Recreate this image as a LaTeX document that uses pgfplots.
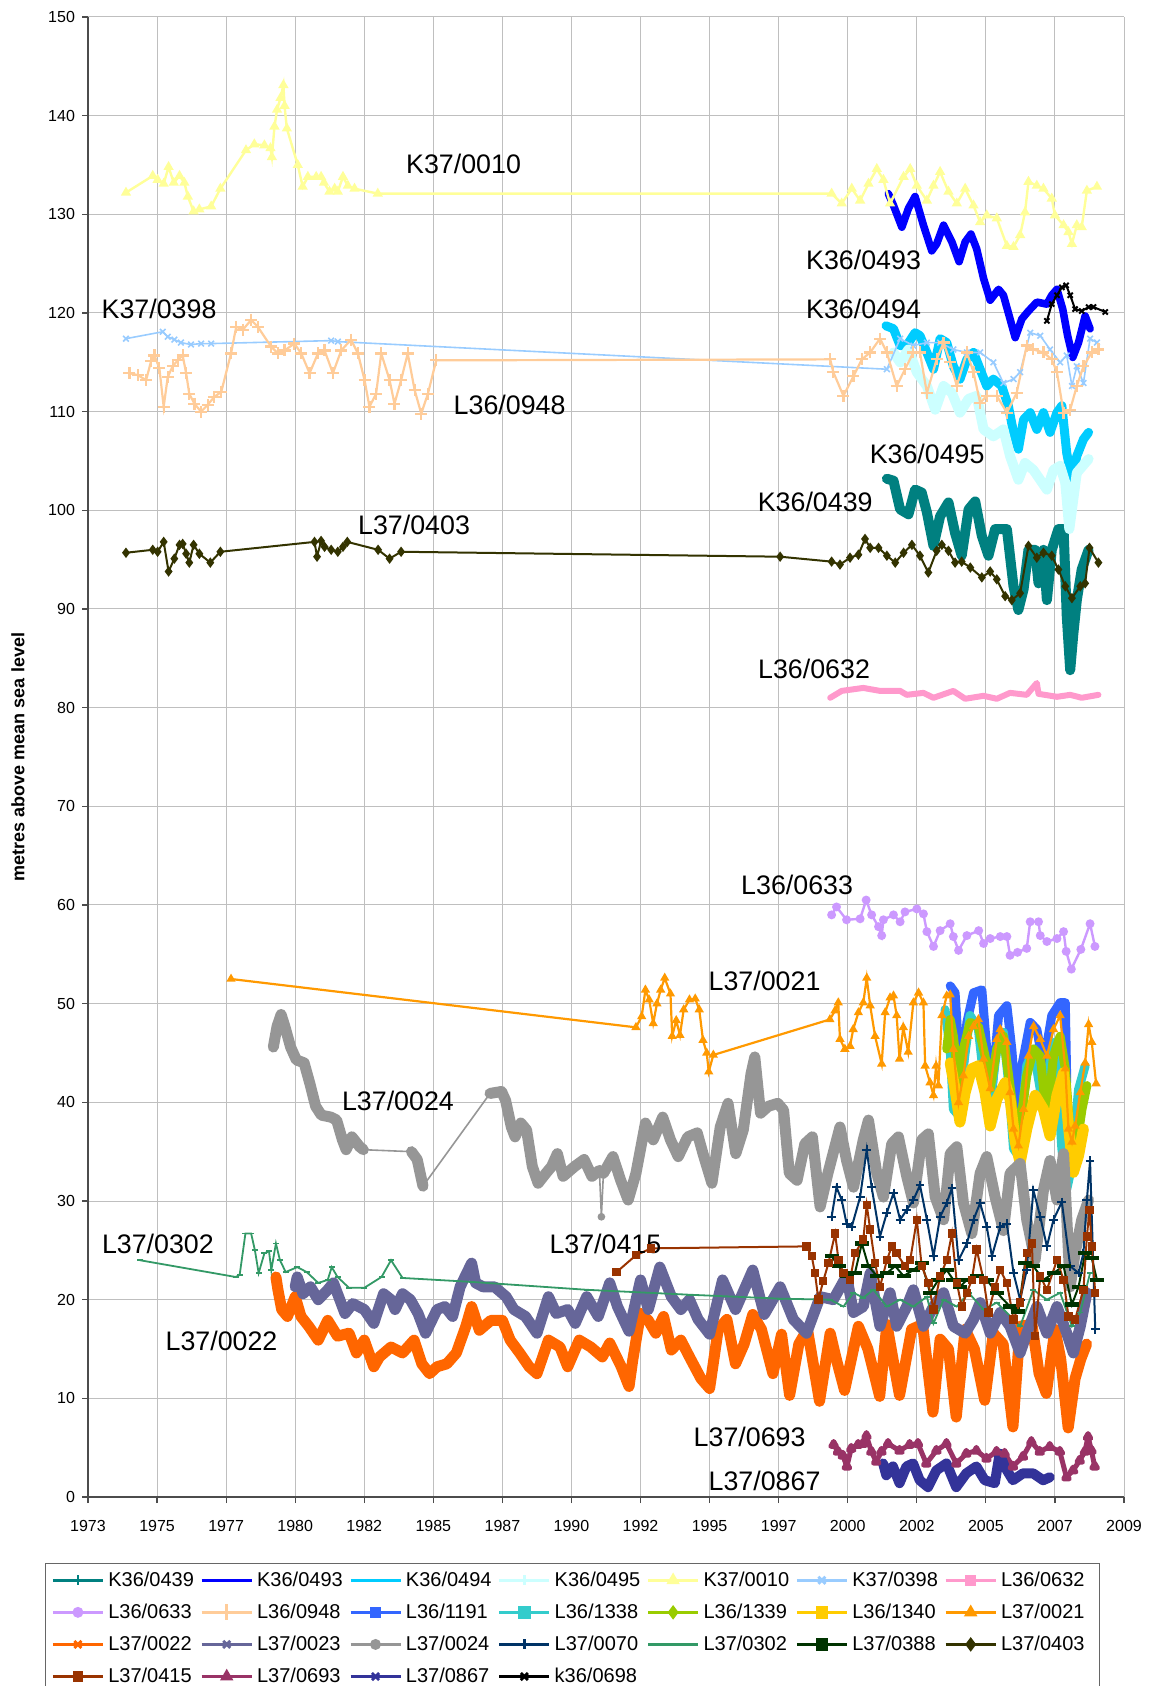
\documentclass[border=0pt]{standalone}
\usepackage{pgfplots}
\pgfplotsset{compat=1.18}
\usepackage{fontspec}
\setmainfont{Liberation Sans}
\setsansfont{Liberation Sans}
\definecolor{cTeal}{HTML}{008080}
\definecolor{cBlue}{HTML}{0000FF}
\definecolor{cSky}{HTML}{00CCFF}
\definecolor{cPaleCyan}{HTML}{CCFFFF}
\definecolor{cLtYellow}{HTML}{FFFF99}
\definecolor{cPaleBlue}{HTML}{99CCFF}
\definecolor{cRose}{HTML}{FF99CC}
\definecolor{cLavender}{HTML}{CC99FF}
\definecolor{cTan}{HTML}{FFCC99}
\definecolor{cLtBlue}{HTML}{3366FF}
\definecolor{cAqua}{HTML}{33CCCC}
\definecolor{cLime}{HTML}{99CC00}
\definecolor{cGold}{HTML}{FFCC00}
\definecolor{cLtOrange}{HTML}{FF9900}
\definecolor{cOrange}{HTML}{FF6600}
\definecolor{cBlueGray}{HTML}{666699}
\definecolor{cGray}{HTML}{969696}
\definecolor{cDkTeal}{HTML}{003366}
\definecolor{cSeaGreen}{HTML}{339966}
\definecolor{cDkGreen}{HTML}{003300}
\definecolor{cOlive}{HTML}{333300}
\definecolor{cBrown}{HTML}{993300}
\definecolor{cPlum}{HTML}{993366}
\definecolor{cIndigo}{HTML}{333399}
\pgfplotsset{
  band/.style={no markers, line join=round, line cap=round, forget plot},
  sparse/.style={line width=0.8pt, mark size=1.4pt, mark options={solid}, forget plot},
}
\tikzset{anno/.style={font=\fontsize{13.4}{15}\selectfont, inner sep=0pt}}
\newcommand{\lgent}[2]{\addlegendimage{#1}\addlegendentry{\makebox[44pt][l]{#2}}}
\begin{document}
\begin{tikzpicture}
\begin{axis}[
  scale only axis, width=518pt, height=740pt,
  xmin=1973, xmax=2009, ymin=0, ymax=150,
  xtick={1973,1975.4,1977.8,1980.2,1982.6,1985,1987.4,1989.8,1992.2,1994.6,1997,1999.4,2001.8,2004.2,2006.6,2009},
  xticklabels={1973,1975,1977,1980,1982,1985,1987,1990,1992,1995,1997,2000,2002,2005,2007,2009},
  ytick={0,10,...,150},
  grid=major, grid style={color=black!25, line width=0.5pt},
  axis x line*=bottom, axis y line*=left,
  tick align=outside, major tick length=3pt,
  tick style={black!70, line width=0.6pt},
  axis line style={black!70, line width=0.6pt},
  ticklabel style={font=\fontsize{8}{9}\selectfont},
  xticklabel style={yshift=-5pt},
  /pgf/number format/assume math mode=true,
  ylabel={metres above mean sea level},
  ylabel style={font=\bfseries\fontsize{9}{10}\selectfont, at={(axis description cs:-0.0676,0.5)}, anchor=center},
  legend columns=7,
  legend cell align=left,
  legend style={at={(0.4675,-0.0446)}, anchor=north, draw=black!60, line width=0.5pt,
    font=\fontsize{10}{12}\selectfont, row sep=3.3pt,
    /tikz/every even column/.append style={column sep=0pt}},
  legend image code/.code={\draw[mark repeat=2,mark phase=2,line width=1.4pt,#1] plot coordinates {(0pt,0pt) (12.5pt,0pt) (25pt,0pt)};},
]
\coordinate (sw) at (rel axis cs:0,0);
\coordinate (ne) at (rel axis cs:1,1);

% K36/0439
\addplot[band, cTeal, line width=5pt] coordinates {(2000.76,103.2)(2000.99,103.0)(2001.22,100.1)(2001.51,99.6)(2001.74,102.1)(2001.97,101.8)(2002.15,99.8)(2002.38,96.4)(2002.61,99.4)(2002.9,100.8)(2003.13,97.7)(2003.36,95.4)(2003.6,100.1)(2003.83,100.9)(2004.06,97.4)(2004.29,95.4)(2004.52,98.1)(2004.93,98.1)(2005.16,92.3)(2005.33,89.9)(2005.51,92.0)(2005.68,96.0)(2005.91,96.0)(2006.03,92.6)(2006.2,96.0)(2006.32,90.9)(2006.49,96.0)(2006.72,98.1)(2006.9,98.1)(2007.01,89.3)(2007.13,83.8)(2007.24,87.5)(2007.36,90.9)(2007.53,94.0)(2007.77,96.0)};
% K36/0493
\addplot[band, cBlue, line width=3.8pt] coordinates {(2000.81,132.1)(2000.99,130.9)(2001.28,128.7)(2001.51,130.6)(2001.74,131.8)(2002.03,128.9)(2002.32,126.3)(2002.49,127.0)(2002.73,128.9)(2003.02,127.2)(2003.27,125.2)(2003.48,127.2)(2003.68,128.0)(2003.88,126.5)(2004.12,123.5)(2004.35,121.3)(2004.64,122.4)(2004.81,121.8)(2005.04,119.4)(2005.22,117.5)(2005.45,119.4)(2005.68,120.2)(2005.97,121.1)(2006.32,120.9)(2006.49,121.8)(2006.67,122.4)(2006.87,120.4)(2007.04,117.7)(2007.22,115.5)(2007.42,117.0)(2007.65,119.7)(2007.82,118.4)};
% K36/0494
\addplot[band, cSky, line width=4.5pt] coordinates {(2000.73,118.7)(2000.99,118.4)(2001.22,116.7)(2001.45,116.7)(2001.74,118.0)(2001.91,117.7)(2002.15,116.0)(2002.38,114.3)(2002.61,117.4)(2002.84,117.0)(2003.07,114.6)(2003.3,113.3)(2003.54,115.3)(2003.77,116.0)(2004.0,114.3)(2004.23,112.6)(2004.46,113.3)(2004.75,112.6)(2004.98,110.6)(2005.16,107.9)(2005.33,106.2)(2005.51,109.2)(2005.74,109.9)(2005.97,108.2)(2006.2,109.9)(2006.43,107.9)(2006.67,109.9)(2006.84,110.6)(2007.01,105.8)(2007.19,103.1)(2007.36,105.5)(2007.59,107.2)(2007.77,107.9)};
% K36/0495
\addplot[band, cPaleCyan, line width=5pt] coordinates {(2000.99,116.0)(2001.22,115.0)(2001.51,116.3)(2001.8,114.0)(2002.15,112.6)(2002.44,110.2)(2002.73,112.6)(2003.02,111.9)(2003.3,109.9)(2003.6,111.3)(2003.88,111.6)(2004.12,108.2)(2004.46,107.5)(2004.81,108.2)(2005.04,105.5)(2005.33,103.1)(2005.56,104.8)(2005.85,104.1)(2006.32,102.1)(2006.55,104.1)(2006.78,104.5)(2006.96,102.8)(2007.1,98.1)(2007.36,103.8)(2007.77,105.2)};
% K37/0010
\addplot[sparse, cLtYellow, mark=triangle*, line width=1.2pt, mark size=1.8pt] coordinates {(1974.32,132.2)(1975.25,133.9)(1975.42,133.5)(1975.63,133.1)(1975.8,134.8)(1975.98,133.2)(1976.18,133.9)(1976.35,133.2)(1976.47,131.8)(1976.67,130.3)(1976.87,130.5)(1977.28,130.8)(1977.6,132.6)(1978.49,136.5)(1978.78,137.1)(1979.13,137.0)(1979.34,136.7)(1979.39,135.8)(1979.48,138.9)(1979.57,140.6)(1979.69,141.8)(1979.79,143.1)(1979.83,141.0)(1979.91,138.7)(1980.29,135.0)(1980.46,132.8)(1980.64,133.8)(1980.93,133.8)(1981.1,133.8)(1981.2,133.2)(1981.39,132.3)(1981.57,132.6)(1981.68,132.3)(1981.86,133.8)(1982.03,132.9)(1982.26,132.6)(1983.07,132.1)(1998.84,132.1)(1999.19,131.1)(1999.54,132.6)(1999.83,131.4)(2000.12,133.1)(2000.41,134.6)(2000.64,133.5)(2000.87,131.1)(2001.34,133.8)(2001.57,134.6)(2001.8,132.9)(2002.15,131.4)(2002.38,132.9)(2002.61,134.3)(2002.9,132.3)(2003.19,131.1)(2003.48,132.6)(2003.77,130.9)(2004.0,129.2)(2004.23,129.9)(2004.58,129.6)(2004.93,126.8)(2005.16,126.7)(2005.39,127.9)(2005.56,130.2)(2005.68,133.3)(2005.97,132.9)(2006.2,132.6)(2006.49,131.6)(2006.6,129.9)(2006.9,128.9)(2007.07,128.2)(2007.19,127.0)(2007.36,128.9)(2007.53,128.7)(2007.71,132.4)(2008.06,132.8)};
% K37/0398
\addplot[sparse, cPaleBlue, mark=x, mark size=2pt] coordinates {(1974.32,117.4)(1975.6,118.1)(1975.77,117.6)(1976.0,117.3)(1976.23,117.0)(1976.58,116.8)(1976.93,116.9)(1977.28,116.9)(1981.45,117.2)(1981.68,117.1)(2000.76,114.3)(2001.22,117.4)(2001.68,116.7)(2002.15,117.0)(2002.61,117.0)(2003.07,116.3)(2003.54,116.0)(2004.0,116.0)(2004.46,115.0)(2004.81,112.9)(2005.16,113.3)(2005.39,114.0)(2005.74,118.0)(2006.09,117.7)(2006.43,116.3)(2006.78,115.0)(2007.01,115.7)(2007.19,112.6)(2007.36,114.6)(2007.59,112.9)(2007.82,117.4)(2008.06,117.0)};
% L36/0632
\addplot[band, cRose, line width=3pt] coordinates {(1998.79,81.0)(1999.19,81.7)(1999.94,82.0)(2000.52,81.7)(2001.22,81.7)(2001.45,81.3)(2002.03,81.5)(2002.38,81.0)(2003.07,81.7)(2003.48,80.9)(2004.12,81.2)(2004.58,80.9)(2005.04,81.5)(2005.62,81.3)(2005.97,82.5)(2006.03,81.4)(2006.67,81.1)(2007.13,81.3)(2007.53,81.0)(2008.11,81.3)};
% L36/0633
\addplot[sparse, cLavender, mark=*, line width=1.2pt, mark size=1.6pt] coordinates {(1998.84,59.0)(1999.01,59.8)(1999.36,58.5)(1999.83,58.6)(2000.04,60.5)(2000.23,59.0)(2000.47,57.8)(2000.58,56.9)(2000.64,58.5)(2000.99,59.0)(2001.22,58.3)(2001.39,59.3)(2001.8,59.6)(2002.03,59.1)(2002.15,57.3)(2002.38,55.8)(2002.61,57.4)(2002.96,58.1)(2003.07,56.8)(2003.25,55.4)(2003.54,56.9)(2003.95,57.4)(2004.12,56.1)(2004.35,56.6)(2004.7,56.8)(2004.93,56.8)(2005.04,54.9)(2005.3,55.2)(2005.62,55.6)(2005.74,58.3)(2006.03,58.3)(2006.09,56.9)(2006.32,56.3)(2006.67,56.6)(2006.9,57.3)(2006.99,55.3)(2007.17,53.5)(2007.5,55.5)(2007.82,58.1)(2007.99,55.8)};
% L36/0948
\addplot[sparse, cTan, mark=+, mark size=3pt, line width=1.1pt] coordinates {(1974.44,113.9)(1974.73,113.7)(1975.02,113.2)(1975.19,115.1)(1975.31,115.7)(1975.48,114.4)(1975.63,110.5)(1975.77,113.5)(1975.94,114.6)(1976.12,115.2)(1976.29,115.7)(1976.41,113.9)(1976.52,111.8)(1976.7,110.8)(1976.93,110.0)(1977.16,110.7)(1977.39,111.5)(1977.63,112.0)(1977.97,115.9)(1978.15,118.6)(1978.38,118.3)(1978.67,119.3)(1978.9,118.6)(1979.36,116.6)(1979.6,115.9)(1979.83,116.2)(1980.17,116.9)(1980.41,115.9)(1980.7,113.9)(1980.99,115.9)(1981.22,116.2)(1981.51,113.9)(1981.8,116.2)(1982.14,117.3)(1982.38,115.9)(1982.61,113.2)(1982.78,110.5)(1983.01,111.8)(1983.19,115.9)(1983.48,113.2)(1983.65,110.8)(1983.88,113.2)(1984.11,115.9)(1984.35,112.2)(1984.58,109.8)(1984.81,111.8)(1985.1,115.2)(1998.79,115.3)(1998.9,114.0)(1999.25,111.6)(1999.6,113.6)(1999.89,115.3)(2000.18,116.0)(2000.52,117.4)(2000.76,116.0)(2001.1,112.6)(2001.39,114.3)(2001.68,116.0)(2001.91,116.0)(2002.15,111.9)(2002.49,115.3)(2002.73,117.0)(2002.96,115.0)(2003.19,112.6)(2003.54,116.0)(2003.77,114.0)(2004.0,110.9)(2004.23,111.6)(2004.58,111.6)(2004.93,109.9)(2005.27,111.9)(2005.62,116.7)(2005.85,116.3)(2006.2,116.0)(2006.49,115.3)(2006.67,114.0)(2006.9,109.9)(2007.13,110.2)(2007.36,112.6)(2007.59,114.6)(2007.88,116.0)(2008.11,116.3)};
% L36/1191
\addplot[band, cLtBlue, line width=4.5pt] coordinates {(2002.96,51.8)(2003.13,51.1)(2003.25,45.4)(2003.36,41.4)(2003.54,48.1)(2003.77,51.1)(2004.06,51.4)(2004.23,45.4)(2004.41,41.0)(2004.64,48.8)(2004.93,49.8)(2005.1,45.4)(2005.27,39.0)(2005.45,43.7)(2005.74,48.1)(2005.97,47.4)(2006.2,43.7)(2006.49,48.8)(2006.78,50.1)(2006.96,50.1)(2007.01,42.0)};
% L36/1338
\addplot[band, cAqua, line width=4.5pt] coordinates {(2002.78,49.4)(2002.96,45.4)(2003.07,39.3)(2003.25,38.7)(2003.42,43.7)(2003.65,48.8)(2003.94,47.4)(2004.12,42.7)(2004.29,38.7)(2004.58,45.4)(2004.81,47.1)(2004.99,42.0)(2005.16,35.3)(2005.33,34.6)(2005.62,43.7)(2005.86,45.4)(2006.09,41.3)(2006.32,42.7)(2006.61,46.1)(2006.84,35.3)(2007.01,31.2)(2007.19,33.6)(2007.42,41.3)(2007.65,43.7)};
% L36/1339
\addplot[band, cLime, line width=4.5pt] coordinates {(2002.84,45.4)(2002.96,48.4)(2003.07,46.7)(2003.25,42.0)(2003.42,45.4)(2003.65,48.1)(2003.94,47.7)(2004.17,44.7)(2004.35,41.4)(2004.58,45.4)(2004.81,46.7)(2004.99,42.7)(2005.16,39.0)(2005.39,37.6)(2005.62,42.7)(2005.86,45.4)(2006.09,44.7)(2006.32,38.0)(2006.55,44.7)(2006.78,46.7)(2006.96,43.4)(2007.13,36.6)(2007.3,34.6)(2007.54,39.3)(2007.71,41.7)};
% L36/1340
\addplot[band, cGold, line width=5.5pt] coordinates {(2002.96,44.0)(2003.13,41.3)(2003.3,38.0)(2003.48,41.0)(2003.71,43.4)(2003.94,43.7)(2004.17,41.0)(2004.35,37.6)(2004.58,40.3)(2004.87,42.0)(2005.04,40.3)(2005.22,36.0)(2005.39,33.9)(2005.62,37.3)(2005.91,40.7)(2006.2,39.3)(2006.43,36.6)(2006.67,40.7)(2006.9,43.0)(2007.07,37.6)(2007.24,32.9)(2007.42,34.6)(2007.59,37.3)};
% L37/0021
\addplot[sparse, cLtOrange, mark=triangle*, line width=1.1pt, mark size=1.6pt] coordinates {(1977.97,52.5)(1992.04,47.6)(1992.24,48.7)(1992.37,51.4)(1992.5,50.4)(1992.64,48.0)(1992.77,50.0)(1992.9,51.4)(1993.04,52.6)(1993.24,51.0)(1993.3,46.7)(1993.44,48.3)(1993.57,46.8)(1993.7,49.4)(1993.9,50.4)(1994.1,50.5)(1994.24,49.4)(1994.37,46.3)(1994.5,45.0)(1994.57,43.1)(1994.73,44.8)(1998.78,48.4)(1998.96,49.3)(1999.07,50.1)(1999.13,46.4)(1999.3,45.4)(1999.48,45.7)(1999.59,47.4)(1999.77,49.1)(1999.94,50.1)(2000.06,52.6)(2000.18,49.8)(2000.35,46.7)(2000.58,43.9)(2000.7,49.1)(2000.87,50.6)(2000.99,50.8)(2001.1,48.8)(2001.2,44.4)(2001.33,47.6)(2001.5,45.1)(2001.68,50.1)(2001.86,51.1)(2002.03,50.1)(2002.09,43.7)(2002.26,42.0)(2002.38,40.7)(2002.47,43.7)(2002.55,41.7)(2002.67,48.8)(2002.84,50.8)(2002.96,50.9)(2003.07,45.4)(2003.25,40.0)(2003.42,42.7)(2003.6,46.7)(2003.77,47.7)(2003.94,48.4)(2004.12,44.4)(2004.35,41.4)(2004.58,46.4)(2004.7,47.4)(2004.93,46.1)(2005.04,41.0)(2005.16,37.3)(2005.33,35.6)(2005.51,39.3)(2005.68,44.7)(2005.86,47.7)(2006.09,46.4)(2006.32,44.7)(2006.55,47.4)(2006.78,48.8)(2006.96,43.4)(2007.07,37.3)(2007.19,36.0)(2007.3,37.6)(2007.48,41.0)(2007.65,44.0)(2007.77,47.9)(2007.88,46.1)(2008.03,41.9)};
% L37/0022
\addplot[band, cOrange, line width=5.5pt] coordinates {(1979.53,22.3)(1979.6,21.0)(1979.73,19.0)(1979.93,18.3)(1980.2,20.3)(1980.4,18.3)(1980.67,17.3)(1981.0,15.9)(1981.33,17.9)(1981.67,16.3)(1982.07,16.6)(1982.33,14.6)(1982.6,15.9)(1982.93,13.2)(1983.13,14.2)(1983.53,15.2)(1983.93,14.6)(1984.33,15.9)(1984.6,13.5)(1984.87,12.5)(1985.13,13.2)(1985.47,13.5)(1985.8,14.6)(1986.13,17.3)(1986.33,19.3)(1986.6,16.9)(1987.0,17.9)(1987.4,17.9)(1987.67,15.9)(1988.0,14.6)(1988.33,13.2)(1988.6,12.5)(1989.0,15.9)(1989.4,15.2)(1989.67,13.2)(1990.07,15.9)(1990.47,15.2)(1990.87,14.2)(1991.13,15.6)(1991.53,13.2)(1991.8,11.2)(1991.93,13.9)(1992.2,18.6)(1992.47,17.9)(1992.73,16.6)(1993.0,18.3)(1993.27,14.9)(1993.6,15.9)(1993.9,14.2)(1994.3,12.0)(1994.6,11.0)(1994.9,17.0)(1995.2,18.0)(1995.5,13.5)(1995.8,15.5)(1996.1,18.5)(1996.4,17.0)(1996.8,12.5)(1997.1,16.5)(1997.38,10.3)(1997.7,15.5)(1998.0,17.0)(1998.42,9.7)(1998.79,16.6)(1999.0,14.0)(1999.29,10.8)(1999.77,17.3)(2000.1,15.0)(2000.51,10.2)(2000.76,17.5)(2001.0,13.5)(2001.2,10.3)(2001.62,17.0)(2002.0,17.5)(2002.36,8.6)(2002.61,16.0)(2002.9,15.0)(2003.17,8.1)(2003.48,17.0)(2003.8,15.0)(2004.16,9.8)(2004.46,16.6)(2004.8,15.5)(2005.14,7.1)(2005.39,17.3)(2005.8,17.5)(2006.05,12.5)(2006.3,10.5)(2006.6,17.0)(2006.8,14.0)(2007.06,7.0)(2007.3,12.0)(2007.5,14.0)(2007.7,15.5)};
% L37/0023
\addplot[band, cBlueGray, line width=5.5pt] coordinates {(1980.2,21.3)(1980.27,22.3)(1980.47,20.6)(1980.73,21.3)(1981.0,20.0)(1981.33,21.0)(1981.53,21.7)(1981.93,18.6)(1982.2,19.6)(1982.6,19.0)(1982.93,17.6)(1983.27,20.6)(1983.53,20.0)(1983.67,19.0)(1983.93,20.6)(1984.2,20.0)(1984.47,18.6)(1984.73,16.6)(1985.13,19.0)(1985.4,19.3)(1985.67,18.3)(1985.93,21.3)(1986.33,23.7)(1986.47,21.7)(1986.73,21.3)(1987.13,21.3)(1987.53,20.3)(1987.8,19.0)(1988.2,18.3)(1988.6,16.6)(1989.0,20.3)(1989.27,18.6)(1989.67,19.0)(1989.93,17.6)(1990.33,20.3)(1990.73,18.3)(1991.13,21.7)(1991.4,19.3)(1991.8,16.8)(1992.2,22.0)(1992.47,19.0)(1992.87,23.3)(1993.27,20.3)(1993.6,19.0)(1993.9,20.0)(1994.2,18.0)(1994.6,16.5)(1995.05,22.0)(1995.5,19.0)(1996.1,23.0)(1996.5,18.5)(1997.05,21.3)(1997.51,18.0)(1997.97,16.6)(1998.44,20.3)(1998.9,20.0)(1999.36,22.4)(1999.6,18.7)(1999.94,19.3)(2000.18,22.7)(2000.52,17.3)(2000.87,20.7)(2001.1,17.3)(2001.45,19.3)(2001.68,21.0)(2002.03,17.3)(2002.38,19.3)(2002.73,20.7)(2003.07,17.3)(2003.48,16.6)(2003.77,18.0)(2004.0,19.7)(2004.35,16.6)(2004.7,18.7)(2005.04,17.3)(2005.39,14.6)(2005.62,16.6)(2005.97,19.3)(2006.32,16.6)(2006.67,19.3)(2007.01,16.6)(2007.24,14.6)(2007.48,17.3)(2007.71,20.7)};
% L37/0024
\addplot[band, cGray, line width=5.5pt] coordinates {(1979.44,45.6)(1979.57,47.7)(1979.71,48.9)(1979.84,47.7)(1980.04,45.6)(1980.24,44.3)(1980.51,44.0)(1980.71,41.9)(1980.91,39.6)(1981.11,38.7)(1981.44,38.5)(1981.64,38.2)(1981.84,36.2)(1981.97,35.2)(1982.17,36.5)(1982.44,35.5)(1982.57,35.2)};
\addplot[cGray, line width=0.8pt, forget plot] coordinates {(1982.57,35.2)(1984.24,35.0)};
\addplot[band, cGray, line width=5.5pt] coordinates {(1984.24,35.0)(1984.44,34.2)(1984.64,31.5)};
\addplot[cGray, line width=0.8pt, forget plot] coordinates {(1984.64,31.5)(1986.97,40.9)};
\addplot[band, cGray, line width=5.5pt] coordinates {(1986.97,40.9)(1987.37,41.1)(1987.51,40.2)(1987.71,37.5)(1987.84,36.5)(1988.04,37.9)(1988.24,37.2)(1988.44,33.5)(1988.64,31.8)(1988.91,32.8)(1989.11,33.5)(1989.31,34.8)(1989.51,32.5)(1989.91,33.5)(1990.24,34.2)(1990.51,32.5)(1990.77,33.1)};
\addplot[cGray, line width=0.8pt, mark=*, mark size=1.5pt, forget plot] coordinates {(1990.77,33.1)(1990.84,28.4)(1990.91,32.8)};
\addplot[band, cGray, line width=5.5pt] coordinates {(1990.91,32.8)(1991.24,34.5)(1991.51,32.1)(1991.77,30.1)(1992.04,32.8)(1992.37,37.9)(1992.64,36.2)(1992.97,38.5)(1993.24,36.2)(1993.51,34.5)(1993.84,36.5)(1994.17,36.9)(1994.37,34.8)(1994.68,31.8)(1994.97,37.5)(1995.24,39.9)(1995.51,34.8)(1995.77,37.2)(1996.04,42.9)(1996.17,44.6)(1996.37,38.9)(1996.64,39.6)(1996.97,39.9)(1997.17,39.2)(1997.37,32.8)(1997.64,32.1)(1997.91,35.8)(1998.17,36.5)(1998.44,29.4)(1998.71,32.8)(1999.13,37.5)(1999.36,34.1)(1999.6,31.4)(1999.94,36.2)(2000.12,38.2)(2000.41,32.8)(2000.64,30.4)(2000.93,35.8)(2001.16,36.5)(2001.45,32.5)(2001.68,29.8)(2001.97,36.2)(2002.2,36.8)(2002.44,30.4)(2002.73,28.1)(2002.96,34.8)(2003.19,35.5)(2003.42,29.8)(2003.71,26.7)(2004.0,32.8)(2004.23,34.5)(2004.52,30.4)(2004.81,27.0)(2005.04,32.8)(2005.39,33.8)(2005.62,28.1)(2005.91,24.0)(2006.2,31.1)(2006.43,34.1)(2006.67,30.1)(2006.9,34.8)(2007.13,21.3)(2007.3,24.7)(2007.53,28.1)(2007.77,30.1)};
% L37/0070
\addplot[sparse, cDkTeal, mark=+, mark size=2.2pt, line width=1pt] coordinates {(1998.84,28.4)(1999.01,31.4)(1999.19,30.1)(1999.36,27.7)(1999.54,27.4)(1999.83,30.4)(2000.06,35.2)(2000.23,31.4)(2000.52,26.4)(2000.76,28.8)(2000.99,30.8)(2001.22,28.1)(2001.45,29.1)(2001.68,30.1)(2001.91,31.6)(2002.15,28.1)(2002.38,24.4)(2002.61,28.4)(2002.84,29.8)(2003.02,31.3)(2003.25,24.0)(2003.54,25.7)(2003.77,28.1)(2004.0,29.8)(2004.23,27.4)(2004.41,24.4)(2004.7,27.4)(2004.93,27.7)(2005.16,22.7)(2005.39,20.0)(2005.62,23.0)(2005.85,31.1)(2006.09,28.4)(2006.32,25.4)(2006.55,28.1)(2006.84,29.9)(2007.13,23.4)(2007.42,22.7)(2007.59,24.7)(2007.71,30.1)(2007.82,34.1)(2008.0,17.0)};
% L37/0302
\addplot[sparse, cSeaGreen, mark=-, mark size=1.5pt, line width=0.9pt] coordinates {(1974.8,24.0)(1978.13,22.3)(1978.27,22.5)(1978.47,26.7)(1978.67,26.7)(1978.8,25.0)(1978.93,22.7)(1979.13,24.7)(1979.29,24.9)(1979.37,23.0)(1979.53,25.7)(1979.67,24.0)(1979.87,22.8)(1980.27,23.3)(1980.6,22.8)(1981.0,21.7)(1981.33,22.0)(1981.47,23.3)(1981.67,22.3)(1982.07,21.2)(1982.6,21.2)(1983.2,22.3)(1983.53,24.0)(1983.93,22.2)(1986.33,21.8)(1990.33,21.0)(1993.9,20.5)(1997.05,20.1)(1998.79,20.0)(1999.25,19.3)(1999.6,20.7)(1999.94,20.2)(2000.29,21.0)(2000.76,19.3)(2001.22,20.0)(2001.68,19.3)(2002.15,20.3)(2002.38,17.6)(2002.73,20.0)(2003.19,19.3)(2003.6,20.7)(2004.12,19.0)(2004.58,19.7)(2005.16,18.0)(2005.39,17.3)(2005.85,21.0)(2006.32,20.0)(2006.78,20.7)(2007.19,17.3)(2007.48,18.7)(2007.82,22.7)};
% L37/0388
\addplot[sparse, cDkGreen, mark=-, mark size=3.5pt, mark options={line width=2.2pt}, line width=1pt] coordinates {(1998.84,24.4)(1999.08,23.4)(1999.36,22.4)(1999.65,22.7)(1999.89,25.7)(2000.12,23.4)(2000.41,22.4)(2000.76,22.7)(2001.05,23.4)(2001.34,22.4)(2001.68,23.0)(2001.97,23.7)(2002.26,20.7)(2002.55,22.0)(2002.84,23.0)(2003.07,22.0)(2003.3,21.3)(2003.54,22.0)(2003.88,22.4)(2004.23,22.0)(2004.58,20.7)(2005.04,19.3)(2005.33,18.8)(2005.56,23.7)(2005.85,23.4)(2006.2,22.0)(2006.55,22.7)(2006.9,23.4)(2007.19,19.5)(2007.42,21.3)(2007.65,24.7)(2007.88,24.2)(2008.06,22.0)};
% L37/0403
\addplot[sparse, cOlive, mark=diamond*, mark size=1.8pt, line width=1pt] coordinates {(1974.32,95.7)(1975.25,96.0)(1975.42,95.8)(1975.63,96.8)(1975.8,93.8)(1976.0,95.1)(1976.18,96.5)(1976.29,96.6)(1976.41,95.6)(1976.52,94.7)(1976.67,96.5)(1976.87,95.6)(1977.25,94.7)(1977.6,95.8)(1980.87,96.8)(1980.96,95.3)(1981.1,96.9)(1981.22,96.3)(1981.45,96.0)(1981.68,95.8)(1981.86,96.3)(1982.01,96.8)(1983.08,96.0)(1983.48,95.1)(1983.88,95.8)(1997.05,95.3)(1998.84,94.8)(1999.13,94.5)(1999.48,95.2)(1999.77,95.5)(2000.0,97.1)(2000.18,96.2)(2000.47,96.2)(2000.76,95.4)(2001.05,94.7)(2001.34,95.7)(2001.63,96.5)(2001.91,95.4)(2002.2,93.7)(2002.49,95.9)(2002.67,96.5)(2002.9,95.9)(2003.13,94.7)(2003.36,94.8)(2003.66,94.2)(2004.06,93.2)(2004.35,93.8)(2004.58,93.0)(2004.87,91.3)(2005.1,90.9)(2005.39,91.6)(2005.68,96.4)(2005.97,95.2)(2006.2,95.7)(2006.49,95.4)(2006.72,94.0)(2006.96,92.3)(2007.19,91.1)(2007.48,92.3)(2007.65,92.6)(2007.8,96.2)(2008.11,94.7)};
% L37/0415
\addplot[sparse, cBrown, mark=square*, mark size=1.6pt, line width=1pt] coordinates {(1991.37,22.8)(1992.04,24.5)(1992.57,25.2)(1997.97,25.4)(1998.15,24.4)(1998.26,22.7)(1998.38,20.0)(1998.55,21.9)(1998.73,23.7)(1998.96,26.7)(1999.08,24.0)(1999.25,22.7)(1999.48,22.0)(1999.65,24.7)(1999.94,26.1)(2000.06,29.6)(2000.18,27.1)(2000.35,23.7)(2000.52,21.3)(2000.76,24.0)(2000.93,25.4)(2001.1,24.7)(2001.39,23.4)(2001.57,24.0)(2001.8,28.1)(2001.97,23.4)(2002.2,21.7)(2002.38,19.0)(2002.61,22.4)(2002.84,24.0)(2003.02,26.7)(2003.19,21.7)(2003.36,19.3)(2003.54,20.7)(2003.71,22.0)(2003.88,25.1)(2004.12,22.0)(2004.29,18.7)(2004.52,21.3)(2004.7,23.0)(2004.93,21.7)(2005.16,18.0)(2005.39,19.7)(2005.62,24.7)(2005.8,25.7)(2005.91,16.3)(2006.09,22.4)(2006.32,21.0)(2006.67,24.0)(2006.9,22.0)(2007.07,18.3)(2007.3,18.0)(2007.59,21.0)(2007.71,26.4)(2007.8,29.1)(2007.88,25.4)(2008.0,20.7)};
% L37/0693
\addplot[sparse, cPlum, mark=triangle*, mark size=1.6pt, line width=2.5pt, line join=round] coordinates {(1998.91,5.3)(1999.06,4.6)(1999.23,4.2)(1999.37,3.1)(1999.52,4.9)(1999.76,5.3)(1999.93,5.4)(2000.05,6.2)(2000.22,4.6)(2000.39,3.6)(2000.57,4.6)(2000.8,5.4)(2001.2,4.7)(2001.55,5.3)(2001.84,5.4)(2002.13,3.4)(2002.48,4.7)(2002.83,5.4)(2003.17,3.4)(2003.52,4.4)(2003.87,4.7)(2004.22,3.9)(2004.57,4.6)(2004.85,4.4)(2005.14,3.1)(2005.49,4.1)(2005.78,5.6)(2006.07,4.6)(2006.42,5.1)(2006.77,4.6)(2007.0,2.0)(2007.23,2.7)(2007.46,3.7)(2007.64,4.6)(2007.75,6.1)(2007.87,4.7)(2007.98,3.1)};
% L37/0867
\addplot[band, cIndigo, line width=5pt] coordinates {(2000.63,3.4)(2000.74,2.2)(2000.97,3.1)(2001.2,1.4)(2001.44,3.1)(2001.67,3.4)(2001.9,1.7)(2002.19,1.0)(2002.48,2.7)(2002.83,3.4)(2003.17,1.0)(2003.52,2.4)(2003.87,3.1)(2004.16,1.7)(2004.51,1.4)(2004.68,4.4)(2004.85,3.1)(2005.14,1.7)(2005.49,2.4)(2005.84,2.4)(2006.19,1.7)(2006.42,2.0)};
% k36/0698
\addplot[sparse, black, mark=x, mark size=1.8pt, line width=1pt] coordinates {(2006.32,119.2)(2006.49,120.9)(2006.67,121.8)(2006.84,122.6)(2006.99,122.8)(2007.13,121.8)(2007.3,120.4)(2007.53,120.2)(2007.77,120.6)(2007.94,120.6)(2008.35,120.1)};

% legend
\lgent{cTeal, line width=1.4pt, mark=+, mark size=2.5pt}{K36/0439}
\lgent{cBlue, line width=1.4pt, mark=-, mark size=2pt}{K36/0493}
\lgent{cSky, line width=1.4pt, mark=-, mark size=2pt}{K36/0494}
\lgent{cPaleCyan, line width=1.4pt, mark=+, mark size=2.5pt}{K36/0495}
\lgent{cLtYellow, line width=1.4pt, mark=triangle*, mark size=2.5pt}{K37/0010}
\lgent{cPaleBlue, line width=1.4pt, mark=x, mark size=2.5pt}{K37/0398}
\lgent{cRose, line width=1.4pt, mark=square*, mark size=2pt}{L36/0632}
\lgent{cLavender, line width=1.4pt, mark=*, mark size=2pt}{L36/0633}
\lgent{cTan, line width=1.4pt, mark=+, mark size=4pt}{L36/0948}
\lgent{cLtBlue, line width=1.4pt, mark=square*, mark size=2pt}{L36/1191}
\lgent{cAqua, line width=1.4pt, mark=square*, mark size=2.5pt}{L36/1338}
\lgent{cLime, line width=1.4pt, mark=diamond*, mark size=2.5pt}{L36/1339}
\lgent{cGold, line width=1.4pt, mark=square*, mark size=2.5pt}{L36/1340}
\lgent{cLtOrange, line width=1.4pt, mark=triangle*, mark size=2.5pt}{L37/0021}
\lgent{cOrange, line width=1.4pt, mark=x, mark size=2.5pt}{L37/0022}
\lgent{cBlueGray, line width=1.4pt, mark=x, mark size=2.5pt}{L37/0023}
\lgent{cGray, line width=1.4pt, mark=*, mark size=2pt}{L37/0024}
\lgent{cDkTeal, line width=1.4pt, mark=+, mark size=2.5pt}{L37/0070}
\lgent{cSeaGreen, line width=1.4pt, mark=-, mark size=2pt}{L37/0302}
\lgent{cDkGreen, line width=1.4pt, mark=square*, mark size=2.5pt}{L37/0388}
\lgent{cOlive, line width=1.4pt, mark=diamond*, mark size=2.5pt}{L37/0403}
\lgent{cBrown, line width=1.4pt, mark=square*, mark size=2pt}{L37/0415}
\lgent{cPlum, line width=1.4pt, mark=triangle*, mark size=2.5pt}{L37/0693}
\lgent{cIndigo, line width=1.4pt, mark=x, mark size=2.5pt}{L37/0867}
\lgent{black, line width=1.4pt, mark=x, mark size=2.5pt}{k36/0698}

% annotations
\node[anno] at (axis cs:1986.05,135.1) {K37/0010};
\node[anno] at (axis cs:1999.95,125.4) {K36/0493};
\node[anno] at (axis cs:1999.95,120.4) {K36/0494};
\node[anno] at (axis cs:1975.47,120.4) {K37/0398};
\node[anno] at (axis cs:1987.65,110.7) {L36/0948};
\node[anno] at (axis cs:2002.16,105.7) {K36/0495};
\node[anno] at (axis cs:1998.27,100.9) {K36/0439};
\node[anno] at (axis cs:1984.33,98.5) {L37/0403};
\node[anno] at (axis cs:1998.23,83.9) {L36/0632};
\node[anno] at (axis cs:1997.64,62.0) {L36/0633};
\node[anno] at (axis cs:1996.51,52.3) {L37/0021};
\node[anno] at (axis cs:1983.77,40.1) {L37/0024};
\node[anno] at (axis cs:1975.43,25.6) {L37/0302};
\node[anno] at (axis cs:1990.98,25.6) {L37/0415};
\node[anno] at (axis cs:1977.64,15.8) {L37/0022};
\node[anno] at (axis cs:1995.99,6.1) {L37/0693};
\node[anno] at (axis cs:1996.51,1.6) {L37/0867};
\end{axis}
\pgfresetboundingbox
\path ([shift={(-44pt,-94.5pt)}]sw) rectangle ([shift={(14.5pt,8.5pt)}]ne);
\end{tikzpicture}
\end{document}
